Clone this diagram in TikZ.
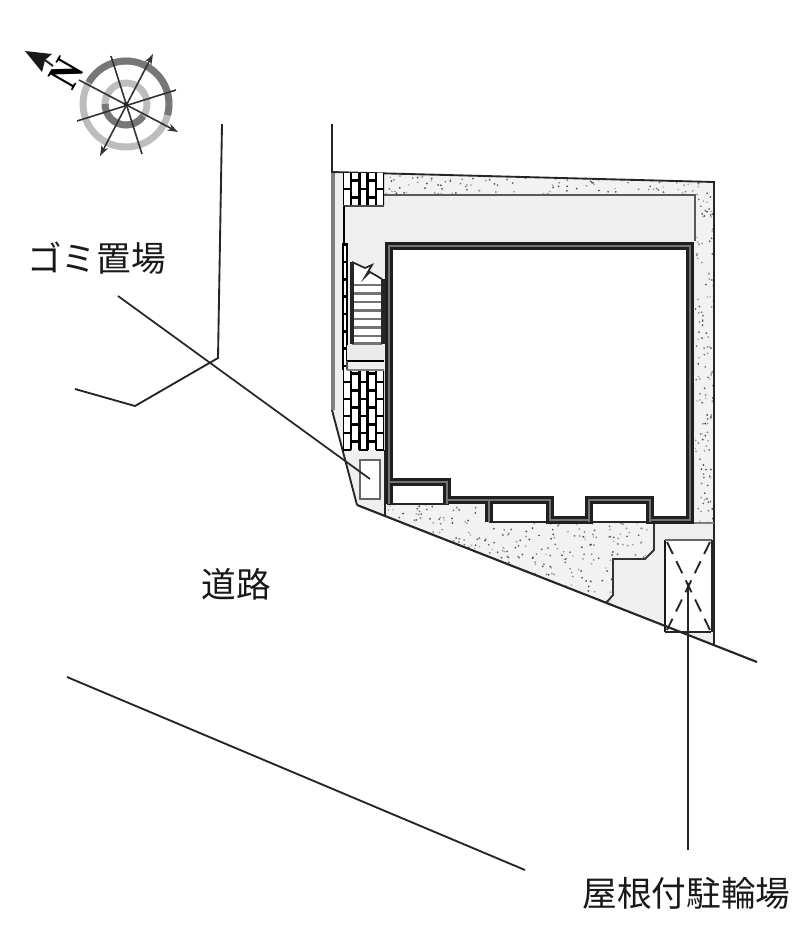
\documentclass[tikz,border=0pt]{standalone}
\usepackage{fontspec}
\setmainfont{Liberation Serif}
\newfontfamily\cjk{Noto Sans CJK JP}
\usetikzlibrary{arrows.meta}
\definecolor{pave}{HTML}{EFEFEF}
\definecolor{stip}{HTML}{F2F2F2}
\definecolor{ringdark}{HTML}{777777}
\definecolor{ringlight}{HTML}{BDBDBD}
\tikzset{
  lbl/.style={font=\cjk\fontsize{26}{26}\selectfont,text=black!90,inner sep=0pt},
  thinline/.style={draw=black!85,line width=1.4pt},
  leader/.style={draw=black!85,line width=1.3pt},
  brickv/.style={draw=black,line width=1.8pt},
  brickh/.style={draw=black,line width=1.8pt},
  wallout/.style={draw=black!88,line width=5.6pt,miter limit=10},
  wallin/.style={draw=black!55,line width=1.2pt},
  needle/.style={draw=black!80,line width=1.2pt},
  needlearrow/.style={needle,-{Stealth[length=8pt,width=5.5pt]}},
  needlearrows/.style={needle,{Stealth[length=8pt,width=5.5pt]}-{Stealth[length=8pt,width=5.5pt]}}
}
% brick block: x0, y0, x1, y1
\newcommand{\brickblock}[4]{%
  \fill[white] (#1,#2) rectangle (#3,#4);
  \begin{scope}
    \clip (#1,#2) rectangle (#3,#4);
    \foreach \c in {0,1,2,3,4}{
      \pgfmathsetmacro\xa{#1+\c*8.2}
      \pgfmathsetmacro\xb{\xa+8.2}
      \pgfmathsetmacro\off{mod(\c,2)*8.5}
      \foreach \r in {0,...,6}{
        \pgfmathsetmacro\yy{#4-\off-\r*17}
        \draw[brickh] (\xa,\yy) -- (\xb,\yy);
      }
    }
    \foreach \c in {0,1,2,3,4,5}{
      \pgfmathsetmacro\xa{#1+\c*8.2}
      \draw[brickv] (\xa,#2) -- (\xa,#4);
    }
  \end{scope}}
% stipple: x0, y0, x1, y1, count
\newcommand{\stipple}[5]{%
  \foreach \i in {1,...,#5}{
    \pgfmathsetmacro\px{#1+rnd*(#3-#1)}
    \pgfmathsetmacro\py{#2+rnd*(#4-#2)}
    \pgfmathsetmacro\sh{25+rnd*50}
    \fill[black!\sh] (\px,\py) circle (0.75pt);
  }}
\begin{document}
\begin{tikzpicture}[x=0.75pt,y=-0.75pt]
\useasboundingbox (0,0) rectangle (800,940);
\pgfmathsetseed{17}
\fill[white] (0,0) rectangle (800,940);

% site ground
\fill[pave] (333,172) -- (714,182) -- (714,645) -- (357,505) -- (332,410) -- cycle;

% stipple areas
\path[fill=stip] (383,175) -- (714,182) -- (714,523) -- (695,523) -- (695,195) -- (383,195) -- cycle;
\path[fill=stip] (385,504) -- (654,504) -- (654,550) -- (645,559) -- (613,559) -- (613,595) -- (606,603) -- (385,516) -- cycle;
\begin{scope}
  \clip (383,175) -- (714,182) -- (714,523) -- (695,523) -- (695,195) -- (383,195) -- cycle;
  \stipple{383}{175}{714}{196}{130}
  \stipple{695}{195}{714}{523}{130}
\end{scope}
\begin{scope}
  \clip (385,504) -- (654,504) -- (654,550) -- (645,559) -- (613,559) -- (613,595) -- (606,603) -- (385,516) -- cycle;
  \stipple{385}{504}{655}{604}{480}
\end{scope}
\draw[line width=1.4pt,draw=black!80] (654,522) -- (654,550) -- (645,559) -- (613,559) -- (613,595) -- (606,603);

% pavement outline
\draw[line width=1.8pt,draw=black!65] (383,195) -- (695,195) -- (695,241);

% left gray strip
\draw[draw=black!50,line width=2.4pt] (333,172) -- (333,410);

% site and surroundings
\draw[thinline] (332,124) -- (332,172) -- (714,182) -- (714,645);
\draw[thinline] (332,410) -- (357,505);
\draw[thinline] (385,450) -- (385,516);
\draw[thinline] (222,124) -- (218,358) -- (135,406) -- (75,389);
\draw[thinline] (67,677) -- (525,870);
\draw[draw=black!50,line width=1.2pt] (654,523) -- (714,523);

% bricks
\brickblock{343}{173}{384}{206}
\draw[line width=1.2pt,draw=black!70] (343,206) -- (384,206);
\brickblock{343}{370}{384}{450}

% fence on the left
\draw[draw=black,line width=1.8pt] (344,206) -- (344,243);
\draw[draw=black,line width=4pt] (345,243) -- (345,370);
\draw[draw=white,line width=1.8pt,dash pattern=on 11pt off 2pt] (345,246) -- (345,370);

% stairs
\fill[white] (352,279) -- (352,262) -- (365,268) -- (372,265) -- (365,277) -- (370,272) -- (382,279) -- (382,343) -- (352,343) -- cycle;
\foreach \y in {285,293.5,302,310.5,319,327.5,336,343.5}{
  \draw[draw=black!55,line width=1.8pt] (352,\y) -- (382,\y);
}
\draw[line width=1.3pt,draw=black!85] (352,262) -- (365,268) -- (372,265) -- (365,277) -- (370,272) -- (382,279);
\draw[line width=3pt,draw=black!85] (352,262) -- (352,344);
\draw[line width=3pt,draw=black!85] (383,279) -- (383,344);
\fill[white!92!black] (347,345) rectangle (384,361);
\draw[line width=1.3pt,draw=black] (347,361) -- (384,361);
\draw[line width=1.2pt,draw=black!70] (347,361) -- (347,370);
\draw[line width=1.2pt,draw=black!50] (347,370) -- (384,370);

% garbage box
\node[draw=black!60,fill=white,line width=1.5pt,minimum width=15pt,minimum height=29pt,inner sep=0pt] (bin) at (370,479.5) {};

% building
\fill[white] (389,246) -- (690,246) -- (690,522) -- (489,522) -- (489,504) -- (389,504) -- cycle;
\draw[line width=1.3pt,draw=black!85] (387,504) -- (449,504);
\draw[line width=1.3pt,draw=black!85] (489,522) -- (692,522);
\foreach \w in {wallout,wallin}{
  \draw[\w] (389,246) -- (690,246) -- (690,520) -- (650,520) -- (650,500) -- (589,500) -- (589,520) -- (550,520) -- (550,500) -- (447,500) -- (447,482) -- (389,482) -- cycle;
  \draw[\w] (389,482) -- (389,504);
  \draw[\w] (447,500) -- (447,504);
  \draw[\w] (489,500) -- (489,522);
  \draw[\w] (589,520) -- (589,522);
  \draw[\w] (650,520) -- (650,522);
}

% bicycle parking
\node[fill=white,minimum width=35.25pt,minimum height=69pt,inner sep=0pt] (park) at (688.5,586) {};
\draw[line width=1.5pt,draw=black!90] (665,632) -- (665,540);
\draw[line width=1.8pt,draw=black!60] (665,540) -- (712,540);
\draw[line width=2.2pt,draw=black!85] (712,540) -- (712,632);
\draw[line width=1.5pt,draw=black!85] (665,632) -- (711,632);
\draw[line width=1.4pt,draw=black!85,dash pattern=on 10pt off 6pt] (667,542) -- (710,630);
\draw[line width=1.4pt,draw=black!85,dash pattern=on 10pt off 6pt] (710,542) -- (667,630);

% road edge over everything
\coordinate (roadA) at (357,505);
\coordinate (roadB) at (757,662);
\draw[draw=black!85,line width=1.6pt] (roadA) -- (roadB);

% labels
\node[lbl] (gomi) at (96.5,258) {ゴミ置場};
\node[lbl] (road) at (236,584) {道路};
\node[lbl] (yane) at (686.5,893) {屋根付駐輪場};

% leaders
\coordinate (gomiend) at (118,296);
\coordinate (binend) at (370,479);
\coordinate (yaneend) at (688,850);
\coordinate (parkend) at (688,583);
\draw[leader] (gomiend) -- (binend);
\draw[leader] (yaneend) -- (parkend);

% compass
\coordinate (cc) at (126,104);
\draw[ringlight,line width=5.2pt] (cc) circle (43);
\draw[ringlight,line width=5.2pt] (cc) circle (21);
\draw[ringdark,line width=5.2pt] ([shift={(-150:43)}]cc) arc[start angle=-150,end angle=15,radius=43];
\draw[ringdark,line width=5.2pt] ([shift={(-180:21)}]cc) arc[start angle=-180,end angle=-325,radius=21];
\coordinate (na) at (79,80);
\coordinate (nb) at (178,132);
\coordinate (nc) at (100,156);
\coordinate (nd) at (153,54);
\coordinate (ne) at (111,56);
\coordinate (nf) at (142,154);
\coordinate (ng) at (77,121);
\coordinate (nh) at (176,90);
\draw[needlearrow] (na) -- (nb);
\draw[needlearrows] (nc) -- (nd);
\draw[needle] (ne) -- (nf);
\draw[needle] (ng) -- (nh);
\fill[black!85] (cc) circle (2.2);

% north mark
\coordinate (ntip) at (25,51);
\coordinate (nstem) at (53,66);
\fill[black!90] (ntip) -- (52,54) -- (45,60) -- (42,72) -- cycle;
\draw[line width=1.5pt,draw=black!85] (45,60) -- (nstem);
\node[font=\fontsize{33}{33}\selectfont\bfseries,inner sep=0pt,rotate=60,xscale=0.8,text=black] (north) at (66,73) {N};
\end{tikzpicture}
\end{document}
